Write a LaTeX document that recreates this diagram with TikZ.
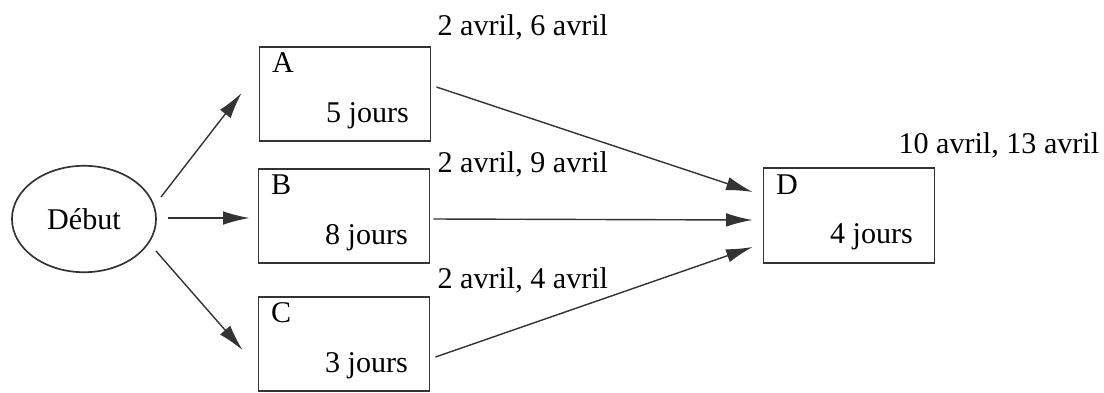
\documentclass[tikz,border=0pt]{standalone}
\usepackage{fontspec}
\setmainfont{Liberation Serif}
\newfontfamily\serifdate{Liberation Serif}
\usepackage{tikz}
\usetikzlibrary{shapes.geometric,arrows.meta}

\begin{document}
\begin{tikzpicture}[x=0.0125cm,y=0.0125cm,
    every node/.style={font=\serifdate\fontsize{10.7}{13}\selectfont,inner sep=0pt},
    tache/.style={draw=black!80,line width=0.6pt,rectangle,minimum width=2.14cm,minimum height=1.18cm},
    fleche/.style={draw=black!80,line width=0.5pt,-{Latex[length=0.33cm,width=0.17cm]}}]
      \useasboundingbox (0,0) rectangle (1104,-392);
      \node [draw=black!80,line width=0.6pt,ellipse,minimum width=1.8cm,minimum height=1.33cm] (debut) at (84,-219) {D\'ebut};
      \node [tache] (A) at (345,-94) {};
      \node [tache] (B) at (344,-216) {};
      \node [tache] (C) at (344,-344) {};
      \node [tache] (D) at (849,-215.5) {};
      % noms et durees
      \node [anchor=base west] (A-nom) at ([shift={(13,-27)}]A.north west) {A};
      \node [anchor=base east] (A-duree) at ([shift={(-22,20)}]A.south east) {5 jours};
      \node [anchor=base west] (B-nom) at ([shift={(13,-27)}]B.north west) {B};
      \node [anchor=base east] (B-duree) at ([shift={(-22,20)}]B.south east) {8 jours};
      \node [anchor=base west] (C-nom) at ([shift={(13,-27)}]C.north west) {C};
      \node [anchor=base east] (C-duree) at ([shift={(-22,20)}]C.south east) {3 jours};
      \node [anchor=base west] (D-nom) at ([shift={(13,-27)}]D.north west) {D};
      \node [anchor=base east] (D-duree) at ([shift={(-22,20)}]D.south east) {4 jours};
      % dates
      \node [anchor=base west] (A-dates) at (437,-35) {2 avril, 6 avril};
      \node [anchor=base west] (B-dates) at (437,-172) {2 avril, 9 avril};
      \node [anchor=base west] (C-dates) at (437,-288) {2 avril, 4 avril};
      \node [anchor=base west] (D-dates) at (898,-153) {10 avril, 13 avril};
      % fleches
      \draw [fleche] ([shift={(77,22)}]debut.center) -- ([shift={(-17,1)}]A.west);
      \draw [fleche] ([shift={(84,1)}]debut.center) -- ([shift={(-8,-2)}]B.west);
      \draw [fleche] ([shift={(72,-32)}]debut.center) -- ([shift={(-15,-6)}]C.west);
      \draw [fleche] ([shift={(5,7)}]A.east) -- ([shift={(-10,23.5)}]D.west);
      \draw [fleche] ([shift={(3,-3)}]B.east) -- ([shift={(-10,-4.5)}]D.west);
      \draw [fleche] ([shift={(5,-13)}]C.east) -- ([shift={(-10,-31.5)}]D.west);
\end{tikzpicture}
\end{document}
